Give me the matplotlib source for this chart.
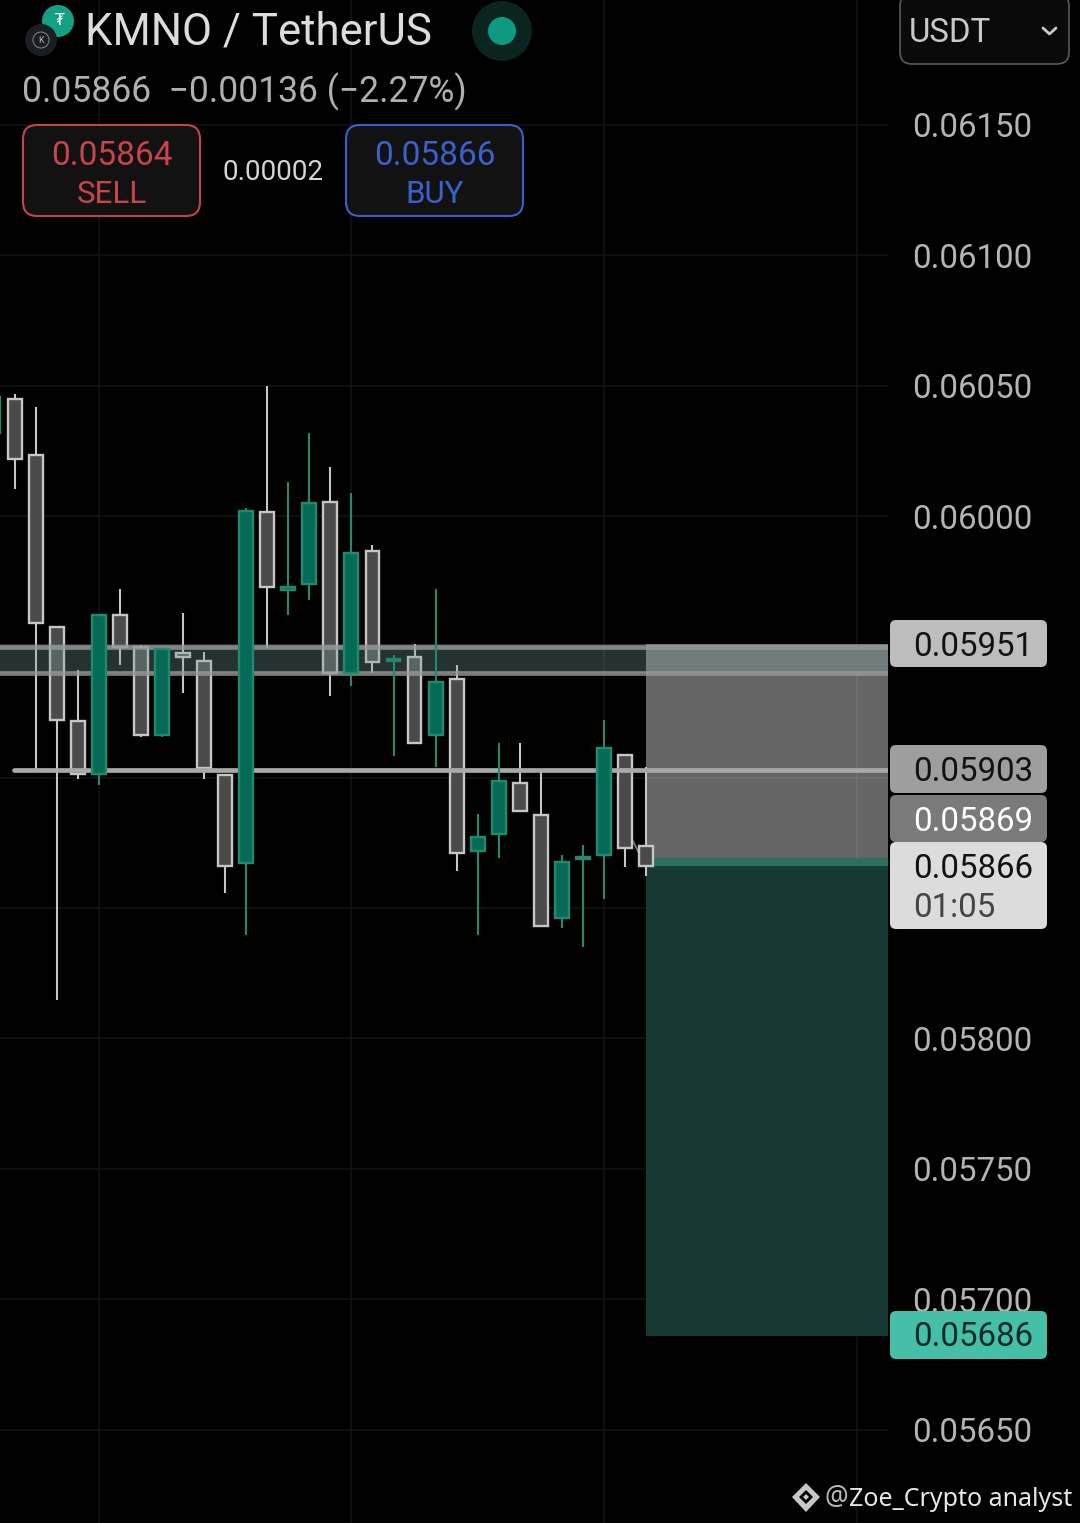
import numpy as np
import matplotlib
matplotlib.use('Agg')
import matplotlib.pyplot as plt
from matplotlib.patches import Circle, FancyBboxPatch, Polygon, Rectangle

plt.rcParams['font.family'] = ['Roboto', 'DejaVu Sans']

# candles, oldest first (first one is cut off by the left edge)
candle_idx = np.arange(-1, 31)
opens = [0.060320, 0.060450, 0.060236, 0.059577, 0.059216, 0.059013, 0.059623, 0.059500, 0.059163,
         0.059477, 0.059446, 0.059010, 0.058672, 0.060017, 0.059718, 0.059741, 0.060056, 0.059400,
         0.059868, 0.059446, 0.059462, 0.059163, 0.059377, 0.058718, 0.058784, 0.058979, 0.058856,
         0.058462, 0.058688, 0.058703, 0.059086, 0.058738]
closes = [0.060458, 0.060220, 0.059592, 0.059220, 0.059013, 0.059623, 0.059500, 0.059163, 0.059492,
          0.059462, 0.059036, 0.058661, 0.060021, 0.059730, 0.059730, 0.060052, 0.059400, 0.059860,
          0.059443, 0.059454, 0.059132, 0.059366, 0.058711, 0.058772, 0.058987, 0.058872, 0.058431,
          0.058676, 0.058695, 0.059113, 0.058730, 0.058661]
highs = [0.060458, 0.060469, 0.060420, 0.059577, 0.059412, 0.059623, 0.059722, 0.059508, 0.059492,
         0.059630, 0.059481, 0.059010, 0.060033, 0.060500, 0.060132, 0.060320, 0.060190, 0.060090,
         0.059891, 0.059469, 0.059511, 0.059722, 0.059431, 0.058860, 0.059132, 0.059132, 0.059021,
         0.058703, 0.058741, 0.059220, 0.059086, 0.059040]
lows = [0.060320, 0.060105, 0.059033, 0.058148, 0.058994, 0.058971, 0.059431, 0.059155, 0.059155,
        0.059324, 0.058994, 0.058557, 0.058397, 0.059496, 0.059623, 0.059680, 0.059312, 0.059351,
        0.059400, 0.059082, 0.059132, 0.059040, 0.058642, 0.058397, 0.058692, 0.058872, 0.058431,
        0.058423, 0.058351, 0.058534, 0.058657, 0.058623]

# price scale
price_ticks = [0.0615, 0.0610, 0.0605, 0.0600, 0.0595, 0.0590, 0.0585, 0.0580, 0.0575, 0.0570, 0.0565]
price_labels = ['0.06150', '0.06100', '0.06050', '0.06000', '', '', '', '0.05800', '0.05750', '0.05700', '0.05650']
time_grid = [4, 16, 28, 40]

# position tool levels
resist_top = 0.05951
resist_bottom = 0.05940
entry_level = 0.05903
box_split = 0.05869
last_price = 0.05866
target_level = 0.05686

# pixel layout of the phone screenshot
W, H = 1080, 1523
chart_right = 888
bar_px = 21.05
first_bar_px = 14.6
px_per_price = 261000.0

GRAY_FILL = '#4a4a4a'
GRAY_EDGE = '#c6c6c6'
GREEN_FILL = '#056b56'
GREEN_EDGE = '#1f8a70'
GRID = '#131313'

fig = plt.figure(figsize=(W / 100, H / 100), dpi=100, facecolor='black')
ax = fig.add_axes([0, 0, chart_right / W, 1], facecolor='black')
ax.set_xlim(-first_bar_px / bar_px, (chart_right - first_bar_px) / bar_px)
ax.set_ylim(0.0615 - (H - 125) / px_per_price, 0.0615 + 125 / px_per_price)
xmax = ax.get_xlim()[1]

ax.set_yticks(price_ticks)
ax.set_yticklabels(price_labels)
ax.yaxis.tick_right()
ax.tick_params(axis='y', length=0, pad=17.3, labelsize=23.8, labelcolor='#b4b4b4')
ax.set_xticks(time_grid)
ax.tick_params(axis='x', length=0, labelbottom=False)
ax.grid(True, color=GRID, linewidth=1.2, zorder=1)
ax.set_axisbelow(True)
for spine in ax.spines.values():
    spine.set_visible(False)

# position boxes
ax.add_patch(Rectangle((30, box_split), xmax - 30, resist_top - box_split, fc='white', alpha=0.4, ec='none', zorder=1.5))
ax.add_patch(Rectangle((30, resist_bottom), xmax - 30, resist_top - resist_bottom, fc='#717d7d', ec='none', zorder=1.6))
ax.add_patch(Rectangle((30, target_level), xmax - 30, last_price - target_level, fc='#163a33', ec='none', zorder=1.5))
ax.add_patch(Rectangle((30, last_price), xmax - 30, box_split - last_price, fc='#2a6f60', ec='none', zorder=1.6))

# candles
for i, o, c, h, l in zip(candle_idx, opens, closes, highs, lows):
    up = c >= o
    fill, edge, z = (GREEN_FILL, GREEN_EDGE, 5) if up else (GRAY_FILL, GRAY_EDGE, 2)
    ax.vlines(i, l, h, color=edge, linewidth=1.5, zorder=z)
    ax.bar(i, abs(c - o), bottom=min(o, c), width=0.66, color=fill, edgecolor=edge, linewidth=1.7, zorder=z + 0.1)

# small connector next to the last candle
ax.plot([29.35, 29.72], [0.05876, 0.05870], color='#808080', linewidth=1.2, zorder=2)

# resistance band and entry line
ax.add_patch(Rectangle((-1, resist_bottom), 31, resist_top - resist_bottom, fc=(0.45, 0.62, 0.62), alpha=0.32, ec='none', zorder=3))
ax.axhline(resist_top - 0.00001, color='#9a9a9a', alpha=0.8, linewidth=3.4, zorder=3)
ax.axhline(resist_bottom, color='#9a9a9a', alpha=0.8, linewidth=3.4, zorder=3)
ax.plot([-0.05, xmax], [entry_level, entry_level], color='#a8a8a8', linewidth=3.4, solid_capstyle='round', zorder=3)

# screen chrome, in pixels
ui = fig.add_axes([0, 0, 1, 1], facecolor='none')
ui.set_xlim(0, W)
ui.set_ylim(H, 0)
ui.axis('off')


def rounded(x0, y0, x1, y1, fc, ec='none', lw=0, r=6):
    ui.add_patch(FancyBboxPatch((x0 + r, y0 + r), x1 - x0 - 2 * r, y1 - y0 - 2 * r,
                                boxstyle=f'round,pad={r},rounding_size={r}', fc=fc, ec=ec, lw=lw))


def label(x, y, s, color, size=23.8, ha='left', **kw):
    ui.text(x, y, s, color=color, fontsize=size, ha=ha, va='center_baseline', **kw)


# header
ui.add_patch(Circle((58, 21), 16, fc='#14a085', ec='none'))
ui.text(60, 20, '₮', color='white', fontsize=11, ha='center', va='center', family='DejaVu Sans')
ui.add_patch(Circle((41, 40), 16, fc='#1a1d21', ec='none'))
ui.add_patch(Circle((41, 40), 8, fc='none', ec='#8a8a8a', lw=0.7))
ui.text(41, 40, 'K', color='#b0b0b0', fontsize=6.5, ha='center', va='center')
label(85, 28, 'KMNO / TetherUS', '#dcdcdc', size=31.5)
ui.add_patch(Circle((502, 31), 30, fc='#0a2420', ec='none'))
ui.add_patch(Circle((502, 31), 14, fc='#0e9a80', ec='none'))
label(22, 88, '0.05866  \u22120.00136 (\u22122.27%)', '#b0b0b0', size=25.6)

rounded(23, 125, 200, 216, '#121212', '#c4444a', 1.5, r=14)
label(111.5, 152, '0.05864', '#c8454c', size=24, ha='center')
label(111.5, 191, 'SELL', '#c8454c', size=22.5, ha='center')
label(273, 169, '0.00002', '#d4d4d4', size=20, ha='center')
rounded(346, 125, 523, 216, '#121212', '#3a5fd0', 1.5, r=14)
label(434.5, 152, '0.05866', '#3a62cc', size=24, ha='center')
label(434.5, 191, 'BUY', '#3a62cc', size=22.5, ha='center')

# symbol selector
rounded(900, -6, 1069, 64, '#0a0a0a', '#5a5a5a', 1.2, r=12)
label(909, 29, 'USDT', '#c8c8c8')
ui.plot([1043, 1049.5, 1056], [28, 34, 28], color='#c8c8c8', linewidth=2, solid_capstyle='round')

# price tags
rounded(890, 620, 1047, 667, '#bdbdbd')
label(913, 643, '0.05951', '#111111')
rounded(890, 745, 1047, 793, '#9e9e9e')
label(913, 768, '0.05903', '#111111')
rounded(890, 795, 1047, 842, '#7a7a7a')
label(913, 818, '0.05869', 'white')
rounded(890, 842, 1047, 929, '#dcdcdc')
label(913, 865, '0.05866', '#111111')
label(913, 904, '01:05', '#444444')
rounded(890, 1311, 1047, 1359, '#45bfa8')
label(913, 1334, '0.05686', '#0c2a25')

# watermark
ui.add_patch(Polygon([(806, 1483), (820, 1497), (806, 1512), (792, 1497)], fc='#c8c8c8', ec='none'))
ui.add_patch(Polygon([(806, 1490), (813, 1497), (806, 1504), (799, 1497)], fc='black', ec='none'))
ui.add_patch(Polygon([(806, 1494), (809, 1497), (806, 1500), (803, 1497)], fc='#c8c8c8', ec='none'))
ui.text(824, 1498, '@', color='#b8b8b8', fontsize=19, ha='left', va='center', family='Noto Sans')
ui.text(849, 1499, 'Zoe_Crypto analyst', color='#e6e6e6', fontsize=18, ha='left', va='center', family='Noto Sans')

fig.savefig('out.png', dpi=100, facecolor='black')
